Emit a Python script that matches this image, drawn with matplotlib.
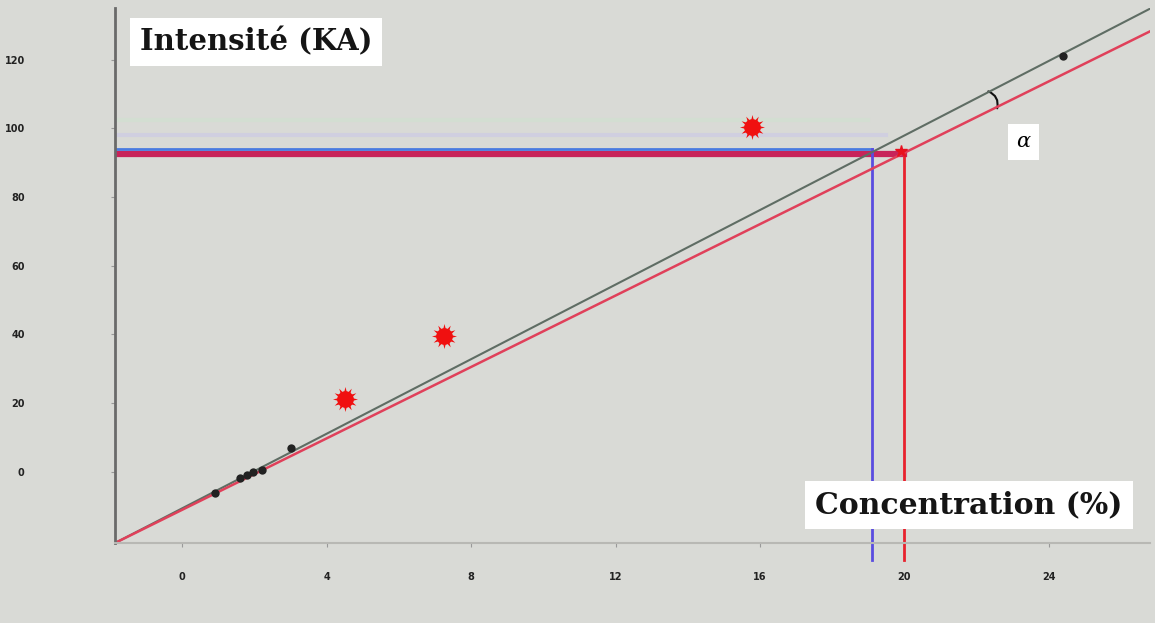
import numpy as np
import matplotlib.pyplot as plt
from matplotlib.patches import FancyArrowPatch

# courbes d'étalonnage (extrémités)
droite_x = [-1.86, 26.8]
droite_grise_y = [-20.8, 134.8]   # étalonnage
droite_rouge_y = [-20.8, 128.2]   # étalonnage corrigé

# points étalons (noirs)
etalons_x = [0.92, 1.6, 1.8, 1.95, 2.2, 3.0, 24.4]
etalons_y = [-6.1, -2.0, -1.0, 0.0, 0.6, 7.0, 121]

# échantillons (rouges)
echant_x = [4.5, 7.25, 15.78]
echant_y = [21.1, 39.5, 100.3]

# lecture de la concentration
lecture_bleue = (19.1, 94.0)
lecture_rouge = (20.0, 92.6)
bas_lecture = -25.7

xticks = [0, 4, 8, 12, 16, 20, 24]
yticks = [0, 20, 40, 60, 80, 100, 120]

fond = '#d9dad6'
fig = plt.figure(figsize=(11.55, 6.23), dpi=100, facecolor=fond)
ax = fig.add_axes([115/1155, 1-543/623, 1035/1155, 535/623], facecolor=fond)
ax.set_xlim(droite_x[0], droite_x[1])
ax.set_ylim(droite_grise_y[0], 135)

for s in ['top', 'right']:
    ax.spines[s].set_visible(False)
ax.spines['left'].set_color('#6a6a6a')
ax.spines['left'].set_linewidth(2)
ax.spines['bottom'].set_color('#b8b8b4')
ax.spines['bottom'].set_linewidth(1.5)

ax.set_xticks(xticks)
ax.set_yticks(yticks)
ax.tick_params(axis='x', length=3, pad=18, labelsize=7, colors='#999999', labelcolor='#222222')
ax.tick_params(axis='y', length=3, pad=62, labelsize=7, colors='#999999', labelcolor='#222222')
for lab in ax.get_xticklabels() + ax.get_yticklabels():
    lab.set_fontweight('bold')

# bandes parasites du scan au-dessus de la lecture
ax.plot([droite_x[0], 19.5], [98.0, 98.0], color='#cbc8e8', lw=3, alpha=0.6)
ax.plot([droite_x[0], 19.0], [102.5, 102.5], color='#cfe3cf', lw=3, alpha=0.5)

# lecture horizontale puis verticale
ax.plot([droite_x[0], lecture_rouge[0]], [lecture_rouge[1]] * 2, color='#c8235a', lw=4.5)
ax.plot([droite_x[0], lecture_bleue[0]], [lecture_bleue[1]] * 2, color='#4a7be0', lw=2)
ax.plot([lecture_bleue[0]] * 2, [lecture_bleue[1], bas_lecture], color='#5a4ce0', lw=2, clip_on=False)
ax.plot([lecture_rouge[0]] * 2, [lecture_rouge[1], bas_lecture], color='#e8232e', lw=2, clip_on=False)

# droites
ax.plot(droite_x, droite_grise_y, color='#5f6d64', lw=1.5)
ax.plot(droite_x, droite_rouge_y, color='#e0405a', lw=1.8)

ax.plot(etalons_x, etalons_y, 'o', color='#222222', ms=6, mec='none')
ax.plot(echant_x, echant_y, 'o', color='#f01010', ms=12, mec='none')
ax.plot(echant_x, echant_y, marker=(12, 1, 0), ls='none', color='#f01010', ms=18, mec='none')
ax.plot([lecture_rouge[0] - 0.1], [lecture_rouge[1] + 0.8], '*', color='#e8101e', ms=9)

# angle alpha
arc = FancyArrowPatch((22.25, 111.0), (22.55, 105.0), arrowstyle='-',
                      connectionstyle='arc3,rad=-0.5', color='#111111', lw=1.5)
ax.add_patch(arc)
ax.text(23.3, 96.0, 'α', fontsize=15, style='italic', family='DejaVu Serif',
        ha='center', va='center', bbox=dict(facecolor='white', edgecolor='none', pad=6))

fig.text(256/1155, 1-42/623, 'Intensité (KA)', fontsize=21, fontweight='bold',
         family='DejaVu Serif', ha='center', va='center', color='#151515',
         bbox=dict(facecolor='white', edgecolor='none', pad=7))
fig.text(969/1155, 1-505/623, 'Concentration (%)', fontsize=21.5, fontweight='bold',
         family='DejaVu Serif', ha='center', va='center', color='#151515',
         bbox=dict(facecolor='white', edgecolor='none', pad=7))

plt.savefig('out.png', dpi=100, facecolor=fond)
